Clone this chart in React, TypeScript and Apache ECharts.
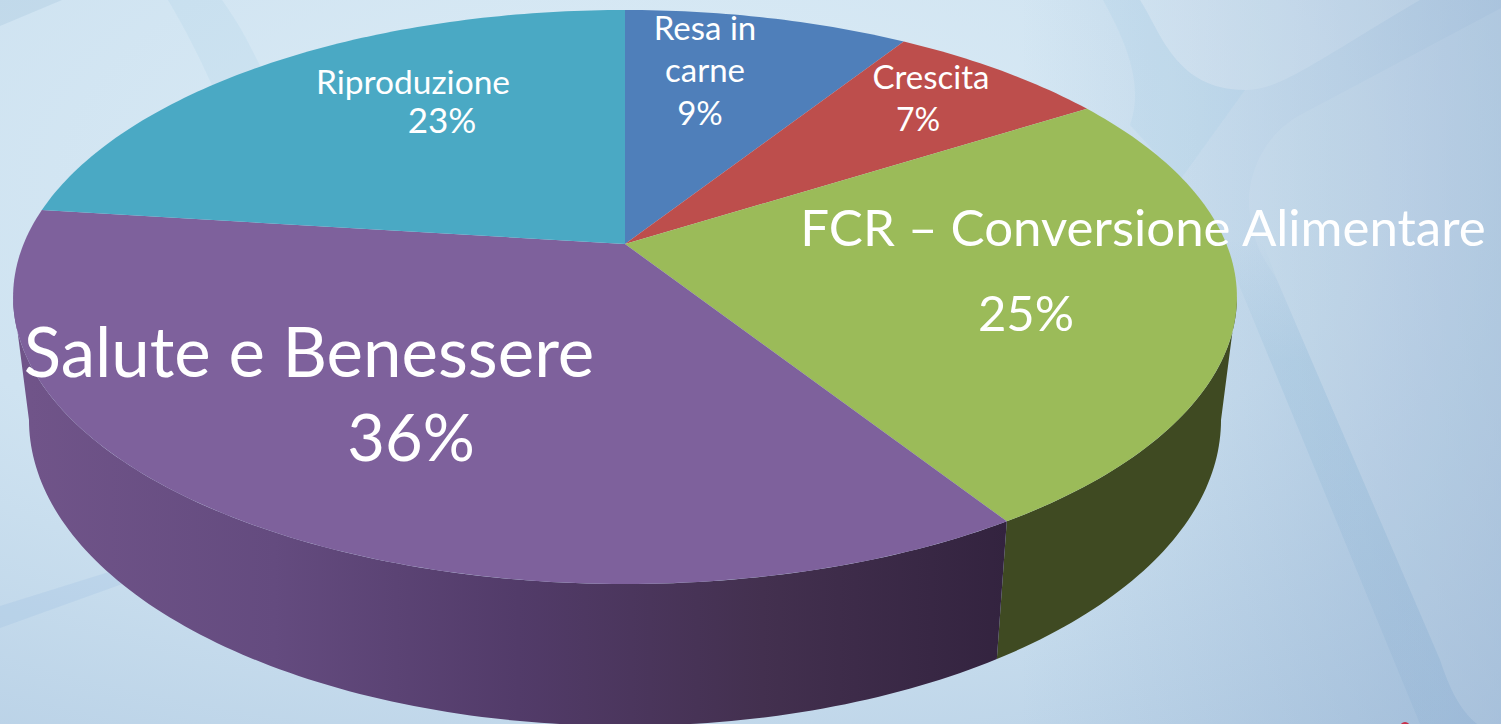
import React, { useEffect, useRef } from "react";
import * as echarts from "echarts";

// ---- data
const categories = ["Resa in carne", "Crescita", "FCR – Conversione Alimentare", "Salute e Benessere", "Riproduzione"];
const labelLines = [["Resa in", "carne"], ["Crescita"], ["FCR – Conversione Alimentare"], ["Salute e Benessere"], ["Riproduzione"]];
const values = [9, 7, 25, 36, 23];

// ---- styles
const topColors = ["#4f7fba", "#bd4e4c", "#9bbb59", "#7e619c", "#4aa9c4"];
const WIDTH = 1501;
const HEIGHT = 724;
const FONT = "Lato, Carlito, 'Open Sans', sans-serif";

// label layout per slice: [x, y] per line, then the percent line, and font sizes
const labelLayout = [
  { size: 33, pctSize: 33, lines: [[705, 27], [705, 69]], pct: [700, 112] },
  { size: 33, pctSize: 32, lines: [[931, 76]], pct: [918, 118] },
  { size: 51, pctSize: 49, lines: [[1143, 226]], pct: [1026, 312] },
  { size: 69, pctSize: 65, lines: [[309, 350]], pct: [411, 436] },
  { size: 33.5, pctSize: 35, lines: [[413, 81]], pct: [442, 119] },
];

// perspective projection of the pie's disc
const CX = 625, APEX_Y = 244, K = 0.1847, A = -232.15, B = 601.4;
const SHRINK_X = 0.974, SHRINK_Y = 1.066, SHIFT_Y = 103.3;
const RIGHT_EDGE = Math.acos(-K);
const LEFT_EDGE = Math.PI * 2 - RIGHT_EDGE;
const project = (theta: number) => {
  const u = Math.sin(theta), v = Math.cos(theta), w = 1 + K * v;
  return [CX + (B * u) / w, (A * v + APEX_Y) / w];
};
const projectBottom = (theta: number) => {
  const [x, y] = project(theta);
  return [CX + SHRINK_X * (x - CX), SHRINK_Y * y + SHIFT_Y];
};
const total = values.reduce((a, b) => a + b, 0);
const startOf = (i: number) => (values.slice(0, i).reduce((a, b) => a + b, 0) / total) * Math.PI * 2;
const arcBetween = (a0: number, a1: number, fn: (t: number) => number[]) => {
  const pts: number[][] = [];
  const n = Math.max(8, Math.round((a1 - a0) * 60));
  for (let k = 0; k <= n; k++) pts.push(fn(a0 + ((a1 - a0) * k) / n));
  return pts;
};

const purpleWall = {
  type: "linear", x: 30, y: 0, x2: 1007, y2: 0, global: true,
  colorStops: [
    { offset: 0, color: "#705489" },
    { offset: 0.25, color: "#644b7f" },
    { offset: 0.5, color: "#523b69" },
    { offset: 0.75, color: "#43304f" },
    { offset: 1, color: "#33233f" },
  ],
};
const wallFills: Record<number, any> = { 2: "#3f4a22", 3: purpleWall };

const renderWall = (params: any) => {
  const i = params.dataIndex;
  if (!wallFills[i]) return { type: "group", children: [] };
  const a0 = Math.max(startOf(i), RIGHT_EDGE);
  const a1 = Math.min(startOf(i + 1), LEFT_EDGE);
  const top = arcBetween(a0, a1, project);
  const bottom = arcBetween(a0, a1, projectBottom).reverse();
  return {
    type: "polygon",
    shape: { points: [...top, ...bottom] },
    style: { fill: wallFills[i] },
  };
};

const renderTop = (params: any, api: any) => {
  const i = params.dataIndex;
  const layout = labelLayout[i];
  const pct = `${api.value(0)}%`;
  const text = (t: string, p: number[], size: number) => ({
    type: "text",
    x: p[0],
    y: p[1],
    z2: 10,
    style: { text: t, fill: "#ffffff", font: `${size}px ${FONT}`, align: "center", verticalAlign: "middle" },
  });
  return {
    type: "group",
    children: [
      {
        type: "polygon",
        shape: { points: [[CX, APEX_Y], ...arcBetween(startOf(i), startOf(i + 1), project)] },
        style: { fill: topColors[i] },
      },
      ...labelLines[i].map((t, k) => text(t, layout.lines[k], layout.size)),
      text(pct, layout.pct, layout.pctSize),
    ],
  };
};

const shapes: Record<string, string> = {
  bgCorner: "M0 0 L62 0 L0 26 Z",
  bgBandTL: "M168 0 L222 0 C238 22 250 45 262 70 L300 150 L240 150 C215 90 195 45 168 0 Z",
  bgLeft: "M0 606 L125 567 L125 583 L0 628 Z",
  bgTR1: "M1140 0 C1160 30 1175 90 1245 90 C1280 90 1310 65 1420 0 Z",
  bgTR2:
    "M1501 8 L1300 115 C1255 140 1245 190 1250 215 C1255 250 1265 260 1277 280 L1440 660 C1450 690 1460 710 1477 724 L1501 724 Z",
  bgBandR: "M1225 240 L1262 240 L1277 280 L1440 660 C1450 690 1460 710 1477 724 L1420 724 L1237 280 Z",
  bgTop: "M1103 0 L1140 0 C1160 30 1175 90 1245 90 L1180 180 L1130 125 C1145 85 1125 40 1103 0 Z",
};
Object.entries(shapes).forEach(([name, d]) => {
  echarts.graphic.registerShape(name, echarts.graphic.extendPath(d, {}));
});

export default function App() {
  const ref = useRef<HTMLDivElement>(null);
  useEffect(() => {
    document.body.style.margin = "0";
    const chart = echarts.init(ref.current!, undefined, { renderer: "svg" });
    chart.setOption({
      animation: false,
      backgroundColor: {
        type: "radial",
        x: 0.42,
        y: 0.25,
        r: 1.0,
        colorStops: [
          { offset: 0, color: "#dcecf6" },
          { offset: 0.5, color: "#cfe3f1" },
          { offset: 1, color: "#b4cde4" },
        ],
      },
      graphic: [
        {
          type: "rect",
          z: -6,
          silent: true,
          shape: { x: 0, y: 0, width: WIDTH, height: HEIGHT },
          style: {
            fill: {
              type: "linear", x: 0, y: 0, x2: 1, y2: 0,
              colorStops: [
                { offset: 0.68, color: "rgba(140,170,205,0)" },
                { offset: 1, color: "rgba(140,170,205,0.5)" },
              ],
            },
          },
        },
        { type: "bgCorner", z: -5, silent: true, style: { fill: "rgba(140,180,210,0.2)" } },
        { type: "bgBandTL", z: -5, silent: true, style: { fill: "rgba(150,200,225,0.14)" } },
        { type: "bgLeft", z: -5, silent: true, style: { fill: "rgba(140,180,220,0.18)" } },
        { type: "bgTop", z: -5, silent: true, style: { fill: "rgba(150,195,225,0.14)" } },
        { type: "bgTR1", z: -5, silent: true, style: { fill: "rgba(255,255,255,0.12)" } },
        { type: "bgTR2", z: -5, silent: true, style: { fill: "rgba(255,255,255,0.07)" } },
        {
          type: "bgBandR",
          z: -5,
          silent: true,
          style: {
            fill: {
              type: "linear", x: 0, y: 0, x2: 0, y2: 1,
              colorStops: [
                { offset: 0, color: "rgba(140,185,215,0)" },
                { offset: 0.25, color: "rgba(140,185,215,0.25)" },
                { offset: 1, color: "rgba(140,175,210,0.25)" },
              ],
            },
          },
        },
        { type: "circle", z: -5, silent: true, shape: { cx: 1405, cy: 727, r: 5 }, style: { fill: "#c8304a" } },
      ],
      series: [
        {
          type: "custom",
          name: "side",
          coordinateSystem: "none",
          z: 2,
          silent: true,
          data: values.map((v, i) => ({ name: categories[i], value: [v] })),
          renderItem: renderWall,
        },
        {
          type: "custom",
          name: "top",
          coordinateSystem: "none",
          z: 3,
          silent: true,
          data: values.map((v, i) => ({ name: categories[i], value: [v] })),
          renderItem: renderTop,
        },
      ],
    });
    return () => chart.dispose();
  }, []);
  return <div ref={ref} style={{ position: "absolute", left: 0, top: 0, width: WIDTH, height: HEIGHT }} />;
}
